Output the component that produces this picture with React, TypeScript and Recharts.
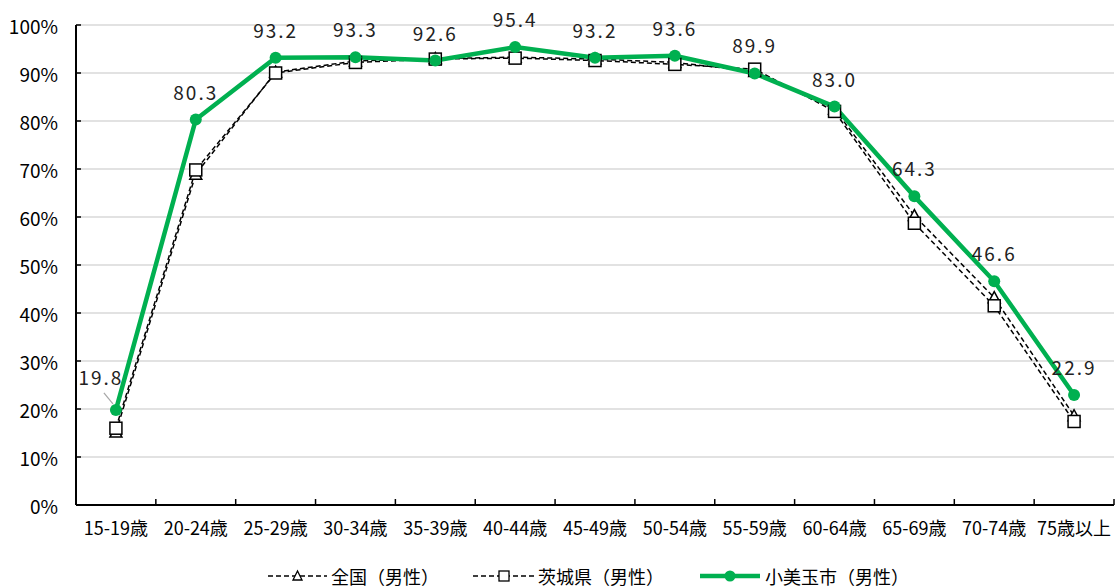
import React from "react";
import {
  LineChart,
  Line,
  XAxis,
  YAxis,
  CartesianGrid,
  Legend,
} from "recharts";

const FONT = '"Noto Sans CJK JP", "Noto Sans", sans-serif';
const GREEN = "#00b050";

const ageGroups = [
  "15-19歳",
  "20-24歳",
  "25-29歳",
  "30-34歳",
  "35-39歳",
  "40-44歳",
  "45-49歳",
  "50-54歳",
  "55-59歳",
  "60-64歳",
  "65-69歳",
  "70-74歳",
  "75歳以上",
];

// 全国（男性）
const zenkoku = [15.2, 68.9, 90.2, 92.5, 93.0, 93.3, 92.9, 92.2, 90.3, 82.5, 60.3, 43.2, 18.6];
// 茨城県（男性）
const ibaraki = [16.0, 69.8, 90.0, 92.2, 92.9, 93.1, 92.6, 91.8, 90.8, 82.0, 58.7, 41.5, 17.4];
// 小美玉市（男性）
const omitama = [19.8, 80.3, 93.2, 93.3, 92.6, 95.4, 93.2, 93.6, 89.9, 83.0, 64.3, 46.6, 22.9];

const yTicks = [0, 10, 20, 30, 40, 50, 60, 70, 80, 90, 100];

const data = ageGroups.map((cat, i) => ({
  cat,
  zenkoku: zenkoku[i],
  ibaraki: ibaraki[i],
  omitama: omitama[i],
}));

const W = 1117;
const H = 588;
const MARGIN = { top: 25, right: 3, left: 0, bottom: 0 };
const Y_WIDTH = 76;
const BAND = (W - Y_WIDTH - MARGIN.left - MARGIN.right) / ageGroups.length;

const XTick = (props: any) => {
  const { x, y, payload } = props;
  return (
    <g>
      <line x1={x + BAND / 2} x2={x + BAND / 2} y1={y} y2={y - 6} stroke="#000" strokeWidth={1.5} />
      <text x={x} y={y + 30} textAnchor="middle" fontSize={18} fontFamily={FONT} fill="#000">
        {payload.value}
      </text>
    </g>
  );
};

const YTick = (props: any) => {
  const { x, y, payload } = props;
  return (
    <g>
      {payload.value > 0 && (
        <line x1={x + 18} x2={x + 23} y1={y} y2={y} stroke="#000" strokeWidth={1.5} />
      )}
      <text x={x} y={y} textAnchor="end" dominantBaseline="central" fontSize={19} fontFamily={FONT} fill="#000">
        {payload.value}%
      </text>
    </g>
  );
};

const TriangleDot = (props: any) => {
  const { cx, cy } = props;
  if (cx == null || cy == null) return null;
  return (
    <polygon
      points={`${cx},${cy - 6} ${cx - 6},${cy + 5} ${cx + 6},${cy + 5}`}
      fill="#fff"
      stroke="#000"
      strokeWidth={1.5}
    />
  );
};

const SquareDot = (props: any) => {
  const { cx, cy } = props;
  if (cx == null || cy == null) return null;
  return <rect x={cx - 6} y={cy - 6} width={12} height={12} fill="#fff" stroke="#000" strokeWidth={1.5} />;
};

const GreenLabel = (props: any) => {
  const { x, y, value, index } = props;
  const txt = Number(value).toFixed(1);
  if (index === 0) {
    return (
      <g>
        <line x1={x - 12} y1={y - 17} x2={x - 3} y2={y - 6} stroke="#a6a6a6" strokeWidth={1.2} />
        <text x={x - 15} y={y - 25} textAnchor="middle" fontSize={19} fontFamily={FONT} fill="#222" letterSpacing={2}>
          {txt}
        </text>
      </g>
    );
  }
  return (
    <text x={x} y={y - 20} textAnchor="middle" fontSize={19} fontFamily={FONT} fill="#222" letterSpacing={2}>
      {txt}
    </text>
  );
};

const LegendContent = () => (
  <div
    style={{
      height: 43,
      display: "flex",
      alignItems: "flex-end",
      paddingLeft: 268,
      paddingBottom: 1,
      boxSizing: "border-box",
      fontFamily: FONT,
      fontSize: 18,
      lineHeight: "22px",
      color: "#000",
      whiteSpace: "nowrap",
    }}
  >
    <svg width={59} height={22} style={{ display: "block" }}>
      <line x1={0} x2={59} y1={11} y2={11} stroke="#000" strokeWidth={1.5} strokeDasharray="5 3" />
      <polygon points="29.5,6 25,15 34,15" fill="#fff" stroke="#000" strokeWidth={1.3} />
    </svg>
    <span style={{ marginLeft: 4 }}>全国（男性）</span>
    <svg width={62} height={22} style={{ display: "block", marginLeft: 34 }}>
      <line x1={0} x2={62} y1={11} y2={11} stroke="#000" strokeWidth={1.5} strokeDasharray="5 3" />
      <rect x={26} y={6} width={10} height={10} fill="#fff" stroke="#000" strokeWidth={1.3} />
    </svg>
    <span style={{ marginLeft: 3 }}>茨城県（男性）</span>
    <svg width={60} height={22} style={{ display: "block", marginLeft: 36 }}>
      <line x1={0} x2={60} y1={11} y2={11} stroke={GREEN} strokeWidth={4.5} />
      <circle cx={30} cy={11} r={5.5} fill={GREEN} />
    </svg>
    <span style={{ marginLeft: 5 }}>小美玉市（男性）</span>
  </div>
);

export default function App() {
  return (
    <div style={{ position: "absolute", left: 0, top: 0, width: W, height: H, background: "#fff", fontFamily: FONT }}>
      <LineChart width={W} height={H} data={data} margin={MARGIN}>
        <CartesianGrid vertical={false} stroke="#d9d9d9" strokeWidth={1.5} />
        <XAxis
          dataKey="cat"
          scale="band"
          interval={0}
          height={40}
          tickSize={0}
          tickMargin={0}
          tickLine={false}
          axisLine={{ stroke: "#000", strokeWidth: 2 }}
          tick={<XTick />}
        />
        <YAxis
          width={Y_WIDTH}
          domain={[0, 100]}
          ticks={yTicks}
          interval={0}
          tickSize={0}
          tickMargin={18}
          tickLine={false}
          axisLine={{ stroke: "#000", strokeWidth: 2 }}
          tick={<YTick />}
        />
        <Legend verticalAlign="bottom" height={43} wrapperStyle={{ left: 0, width: W }} content={<LegendContent />} />
        <Line
          dataKey="zenkoku"
          name="全国（男性）"
          stroke="#000"
          strokeWidth={1.5}
          strokeDasharray="5 3"
          dot={<TriangleDot />}
          activeDot={false}
          isAnimationActive={false}
        />
        <Line
          dataKey="ibaraki"
          name="茨城県（男性）"
          stroke="#000"
          strokeWidth={1.5}
          strokeDasharray="5 3"
          dot={<SquareDot />}
          activeDot={false}
          isAnimationActive={false}
        />
        <Line
          dataKey="omitama"
          name="小美玉市（男性）"
          stroke={GREEN}
          strokeWidth={4.5}
          dot={{ r: 6, fill: GREEN, stroke: GREEN, strokeWidth: 0 }}
          activeDot={false}
          label={<GreenLabel />}
          isAnimationActive={false}
        />
      </LineChart>
    </div>
  );
}
